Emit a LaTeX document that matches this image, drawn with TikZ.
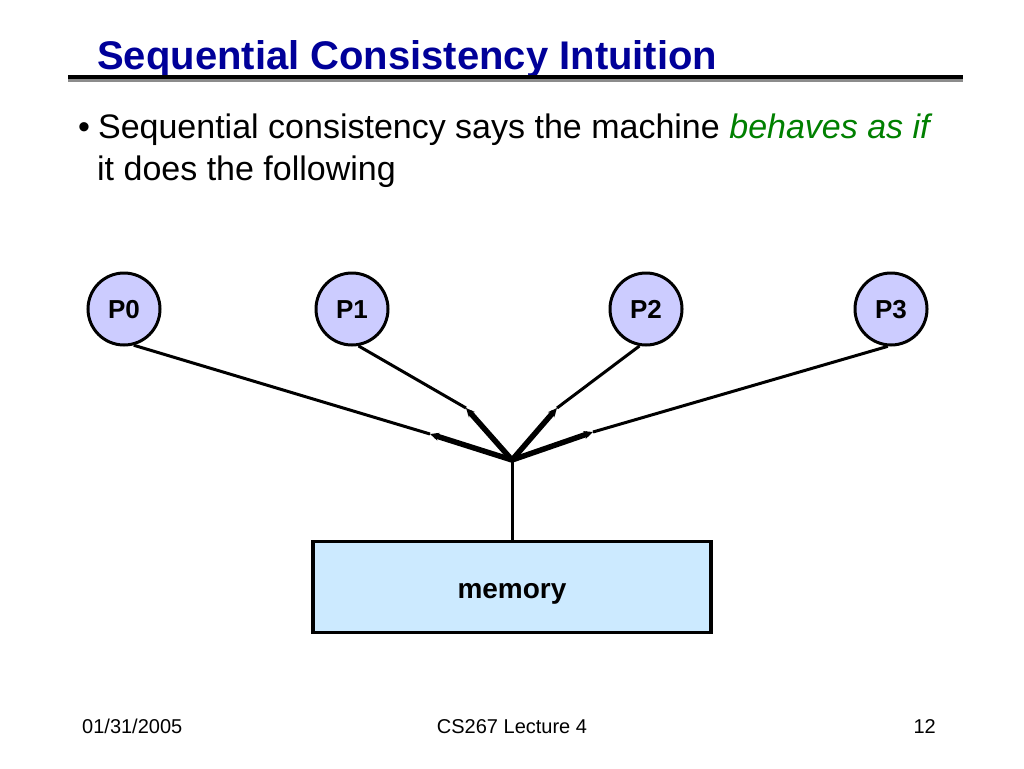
\documentclass[tikz,border=0pt]{standalone}
\usepackage{fontspec}
\setmainfont{Liberation Sans}
\usetikzlibrary{arrows.meta}
\definecolor{titleblue}{RGB}{0,0,153}
\definecolor{procfill}{RGB}{204,204,255}
\definecolor{memfill}{RGB}{204,234,255}
\definecolor{greentext}{RGB}{0,128,0}
\begin{document}
\begin{tikzpicture}[x=1pt,y=-1pt,
  proc/.style={circle,draw=black,line width=3pt,fill=procfill,minimum size=72pt,inner sep=0pt,text height=19pt,text depth=0pt,font=\fontsize{26}{30}\selectfont\bfseries},
  mem/.style={rectangle,draw=black,line width=3.5pt,fill=memfill,minimum width=398pt,minimum height=91pt,inner sep=0pt},
  wire/.style={line width=3pt,black},
  spoke/.style={line width=5.5pt,black,-{Stealth[length=9pt,width=8pt]}},
  foot/.style={font=\fontsize{20}{24}\selectfont,inner sep=0pt,anchor=base}
]
\useasboundingbox (0,0) rectangle (1024,768);
\fill[white] (0,0) rectangle (1024,768);
% title
\node[anchor=base west,inner sep=0pt,text=titleblue,font=\fontsize{40}{46}\selectfont\bfseries] (title) at (97,70) {Sequential Consistency Intuition};
\fill[black!45] (68,79) rectangle (963,82);
\fill[black] (68,75) rectangle (963,79);
% bullet text
\node[anchor=base west,inner sep=0pt,font=\fontsize{34}{40}\selectfont] (l1) at (78,138) {•\hspace{8pt}Sequential consistency says the machine \textcolor{greentext}{\itshape behaves as if}};
\node[anchor=base west,inner sep=0pt,font=\fontsize{34}{40}\selectfont] (l2) at (97,180) {it does the following};
% processors
\node[proc] (p0) at (124,309) {P0};
\node[proc] (p1) at (352,309) {P1};
\node[proc] (p2) at (646,309) {P2};
\node[proc] (p3) at (891,309) {P3};
% memory
\node[mem] (m) at (512,587) {};
\node[anchor=base,inner sep=0pt,font=\fontsize{28}{32}\selectfont\bfseries] (mlabel) at (512,598) {memory};
% switch
\coordinate (hub) at (512,460);
\coordinate (t0) at (430,434);
\coordinate (t1) at (466,408);
\coordinate (t2) at (557,408);
\coordinate (t3) at (593,432);
\draw[wire] (p0.-75) -- (t0);
\draw[wire] (p1.-80) -- (t1);
\draw[wire] (p2.-100) -- (t2);
\draw[wire] (p3.-95) -- (t3);
\draw[spoke] (hub) -- (t0);
\draw[spoke] (hub) -- (t1);
\draw[spoke] (hub) -- (t2);
\draw[spoke] (hub) -- (t3);
\draw[wire] (hub) -- (m.north);
% footer
\node[foot,anchor=base west] (f1) at (82,733) {01/31/2005};
\node[foot] (f2) at (512,733) {CS267 Lecture 4};
\node[foot,anchor=base east] (f3) at (936,733) {12};
\end{tikzpicture}
\end{document}
